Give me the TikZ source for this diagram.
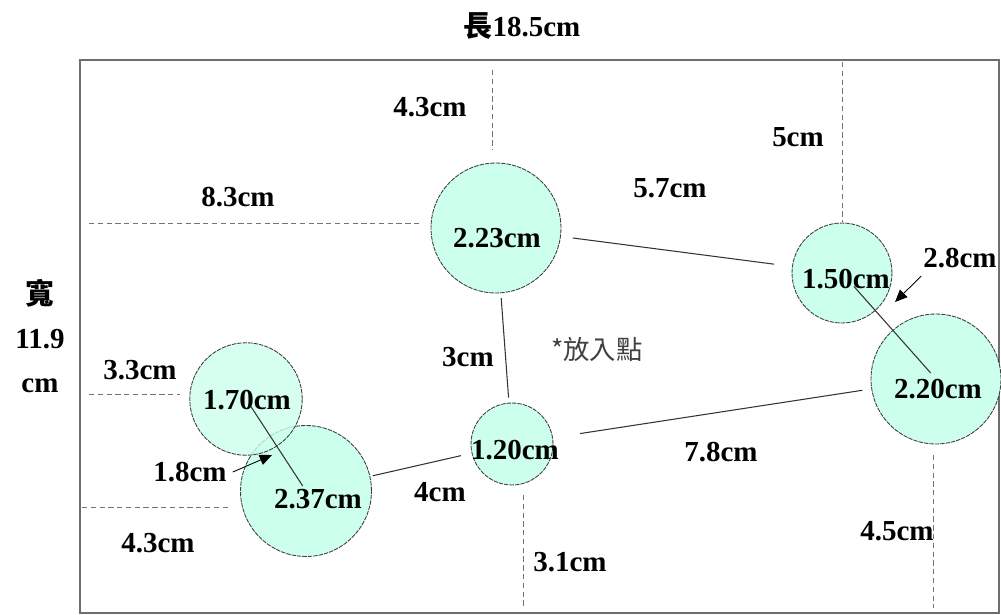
\documentclass[tikz,border=0pt]{standalone}
\usepackage{fontspec}
\setmainfont{Liberation Serif}
\newfontfamily\cjk{Noto Sans CJK TC}
\usetikzlibrary{arrows.meta}
\definecolor{mint}{RGB}{204,255,236}
\definecolor{framegray}{RGB}{110,110,110}

\begin{document}
\begin{tikzpicture}[x=0.02cm, y=-0.02cm, font=\fontsize{16.5}{18}\selectfont\bfseries,
  spot/.style={circle, draw=black!75, fill=mint, line width=0.5pt, dash pattern=on 2.5pt off 0.6pt, inner sep=0pt},
  guide/.style={black!55, dash pattern=on 3pt off 2pt, line width=0.5pt},
  link/.style={black!80, line width=0.6pt},
  pointer/.style={black, line width=0.5pt, -{Triangle[length=7pt, width=6pt]}}]
  \useasboundingbox (0,0) rectangle (1001,615);
  \draw[framegray, line width=0.9pt] (80,60) rectangle (999,613);

  % dashed guides to the frame
  \draw[guide] (492,70) -- (492,150);
  \draw[guide] (89,223) -- (420,223);
  \draw[guide] (842,62) -- (842,222);
  \draw[guide] (89,394) -- (180,394);
  \draw[guide] (82,507) -- (230,507);
  \draw[guide] (523,495) -- (523,608);
  \draw[guide] (933,455) -- (933,608);

  % circles
  \node[spot, minimum size=2.6cm] (cA) at (496,228) {};
  \node[spot, minimum size=2.0cm] (cB) at (842,273) {};
  \node[spot, minimum size=2.6cm] (cC) at (936,379) {};
  \node[spot, minimum size=1.64cm] (cD) at (512,444) {};
  \node[spot, minimum size=2.62cm] (cF) at (306,491) {};
  \node[spot, minimum size=2.25cm, fill opacity=0.8] (cE) at (246,399) {};

  \node (tA) at (497,238) {2.23cm};
  \node (tB) at (846,279) {1.50cm};
  \node (tC) at (938,389) {2.20cm};
  \node (tD) at (515,450) {1.20cm};
  \node (tE) at (247,400) {1.70cm};
  \node (tF) at (318,499) {2.37cm};

  % links between circles
  \draw[link, shorten <=0.24cm, shorten >=0.36cm] (cA) -- (cB);
  \draw[link, shorten <=0.1cm, shorten >=0.1cm] (cA) -- (cD);
  \draw[link, shorten <=0.55cm, shorten >=0.18cm] (cD) -- (cC);
  \draw[link, shorten <=0.05cm, shorten >=0.22cm] (cF) -- (cD);
  \draw[link, shorten <=0.36cm, shorten >=0.16cm] (cB.center) -- (cC.center);
  \draw[link, shorten <=0.18cm, shorten >=0.12cm] (cE.center) -- (cF.center);

  % distances
  \node (top) at (522,26) {{\cjk 長}18.5cm};
  \node[align=center, font=\fontsize{16.5}{25}\selectfont\bfseries] (side) at (40,336) {{\cjk 寬}\\11.9\\cm};
  \node (dAtop) at (430,107) {4.3cm};
  \node (dAleft) at (238,197) {8.3cm};
  \node (dBtop) at (798,137) {5cm};
  \node (dAB) at (670,188) {5.7cm};
  \node (dBC) at (960,258) {2.8cm};
  \node (dAD) at (468,357) {3cm};
  \node[black!75, font=\cjk\fontsize{15}{18}\selectfont] (drop) at (597,349) {*放入點};
  \node (dEleft) at (140,370) {3.3cm};
  \node (dEF) at (190,472) {1.8cm};
  \node (dFleft) at (158,543) {4.3cm};
  \node (dFD) at (440,492) {4cm};
  \node (dDC) at (721,452) {7.8cm};
  \node (dDbot) at (570,562) {3.1cm};
  \node (dCbot) at (897,531) {4.5cm};

  \coordinate (tipBC) at (895,302);
  \coordinate (tipEF) at (272,455);
  \draw[pointer] (dBC.south west) ++(4,2) -- (tipBC);
  \draw[pointer] (dEF.east) -- (tipEF);
\end{tikzpicture}
\end{document}
